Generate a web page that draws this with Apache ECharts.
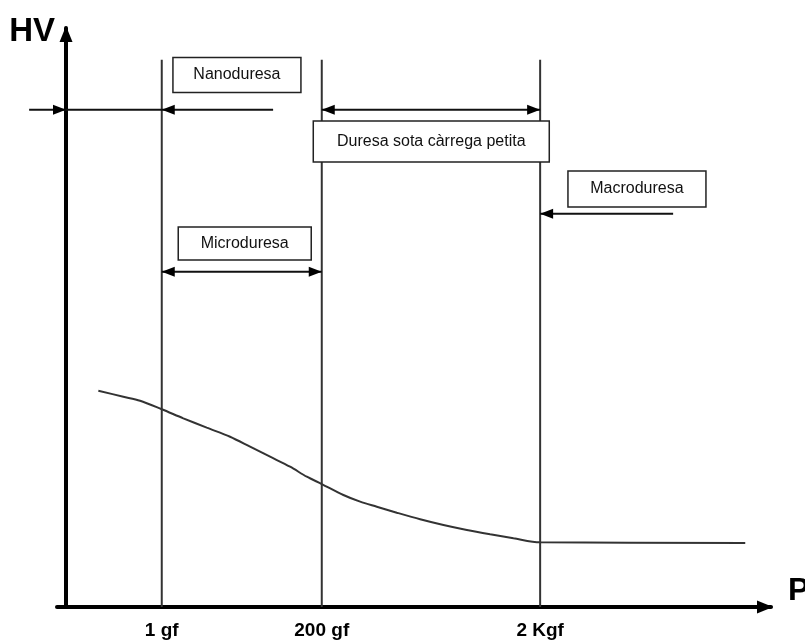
<!DOCTYPE html>
<html><head><meta charset="utf-8">
<script src="https://cdn.jsdelivr.net/npm/echarts@6/dist/echarts.min.js"></script>
<style>html,body{margin:0;padding:0;background:#fff}#c{width:805px;height:641px}</style>
</head><body><div id="c"></div>
<script>
// ---- data (schematic units: x = load scale, y = HV 0..100) ----
const loadPositions = [13.5, 36.06, 66.85];
const loadLabels = ['1 gf', '200 gf', '2 Kgf'];
const boundaryTop = 94.5;
const curveX = [4.56, 8.08, 10.44, 13.50, 16.54, 19.84, 23.13, 25.95, 28.77, 31.59, 33.95, 36.06,
                39.11, 41.47, 43.82, 46.64, 49.93, 53.22, 56.52, 59.80, 63.09, 66.85, 95.77];
const curveY = [37.36, 36.32, 35.63, 34.15, 32.59, 30.97, 29.41, 27.69, 25.96, 24.23, 22.50, 21.24,
                19.34, 18.19, 17.32, 16.29, 15.15, 14.16, 13.30, 12.56, 11.87, 11.17, 11.05];
const boxLabels = ['Nanoduresa', 'Duresa sota càrrega petita', 'Macroduresa', 'Microduresa'];
const boxX = [24.1, 51.5, 80.5, 25.2];
const boxY = [91.9, 80.4, 72.2, 62.8];
// arrow shafts: [x start, x end, y]
const arrowShafts = [[-5.2, 29.2, 85.9], [36.06, 66.85, 85.9], [13.5, 36.06, 57.9], [66.85, 85.6, 67.9]];
// arrow heads: [tip x, tip y, direction (+1 right, -1 left)]
const arrowHeads = [[0, 85.9, 1], [13.5, 85.9, -1], [36.06, 85.9, -1], [66.85, 85.9, 1],
                    [13.5, 57.9, -1], [36.06, 57.9, 1], [66.85, 67.9, -1]];

// ---- styles ----
const FONT = "'Liberation Sans', Arial, sans-serif";
const boxSizes = [[128, 35], [236, 41], [138, 36], [133, 33]];
const LINE = '#333';

const chart = echarts.init(document.getElementById('c'), null, {renderer: 'canvas'});
chart.setOption({
  backgroundColor: '#fff',
  animation: false,
  grid: {left: 57, right: 34, top: 28, bottom: 34, containLabel: false, outerBoundsMode: 'none'},
  xAxis: {
    type: 'value', min: -1.27, max: 99.4,
    name: 'P', nameLocation: 'end', nameGap: 17,
    nameTextStyle: {fontFamily: FONT, fontSize: 32, fontWeight: 'bold', color: '#000', verticalAlign: 'bottom'},
    axisLine: {show: true, onZero: false, symbol: ['none', 'triangle'], symbolSize: [13, 16], symbolOffset: [0, -6], lineStyle: {color: '#000', width: 4}},
    axisTick: {show: false},
    splitLine: {show: false},
    axisLabel: {
      customValues: loadPositions,
      formatter: v => loadLabels[loadPositions.indexOf(v)],
      margin: 14, fontFamily: FONT, fontSize: 19, fontWeight: 'bold', color: '#000'
    }
  },
  yAxis: {
    type: 'value', min: 0, max: 100,
    name: 'HV', nameLocation: 'end', nameGap: -4,
    nameTextStyle: {fontFamily: FONT, fontSize: 33, fontWeight: 'bold', color: '#000', align: 'right', verticalAlign: 'middle', padding: [0, 11, 0, 0]},
    axisLine: {show: true, onZero: true, symbol: ['none', 'triangle'], symbolSize: [13, 16], symbolOffset: [0, -6], lineStyle: {color: '#000', width: 4}},
    axisTick: {show: false}, axisLabel: {show: false}, splitLine: {show: false}
  },
  series: [
    {
      type: 'custom', clip: false, silent: true,
      data: loadPositions.map(x => [x]),
      renderItem: (params, api) => {
        const p0 = api.coord([api.value(0), 0]);
        const p1 = api.coord([api.value(0), boundaryTop]);
        return {type: 'line', shape: {x1: p0[0], y1: p0[1], x2: p1[0], y2: p1[1]}, style: {stroke: LINE, lineWidth: 2}};
      }
    },
    {
      type: 'line', silent: true, symbol: 'none', smooth: 0.3,
      data: curveX.map((x, i) => [x, curveY[i]]),
      lineStyle: {color: LINE, width: 2}
    },
    {
      type: 'custom', clip: false, silent: true,
      data: arrowShafts,
      renderItem: (params, api) => {
        const p0 = api.coord([api.value(0), api.value(2)]);
        const p1 = api.coord([api.value(1), api.value(2)]);
        return {type: 'line', shape: {x1: p0[0], y1: p0[1], x2: p1[0], y2: p1[1]}, style: {stroke: '#111', lineWidth: 2}};
      }
    },
    {
      type: 'custom', clip: false, silent: true,
      data: arrowHeads,
      renderItem: (params, api) => {
        const t = api.coord([api.value(0), api.value(1)]);
        const d = api.value(2);
        const L = 13, W = 5;
        return {type: 'polygon', shape: {points: [[t[0], t[1]], [t[0] - d * L, t[1] - W], [t[0] - d * L, t[1] + W]]}, style: {fill: '#000'}};
      }
    },
    {
      type: 'custom', clip: false, silent: true,
      data: boxX.map((x, i) => [x, boxY[i], i]),
      renderItem: (params, api) => {
        const c = api.coord([api.value(0), api.value(1)]);
        const i = api.value(2);
        const [w, h] = boxSizes[i];
        return {
          type: 'group', children: [
            {type: 'rect', shape: {x: c[0] - w / 2, y: c[1] - h / 2, width: w, height: h}, style: {fill: '#fff', stroke: '#222', lineWidth: 1.5}},
            {type: 'text', style: {x: c[0], y: c[1], text: boxLabels[i], font: '16px ' + FONT, fill: '#111', align: 'center', verticalAlign: 'middle'}}
          ]
        };
      }
    }
  ]
});
</script></body></html>
